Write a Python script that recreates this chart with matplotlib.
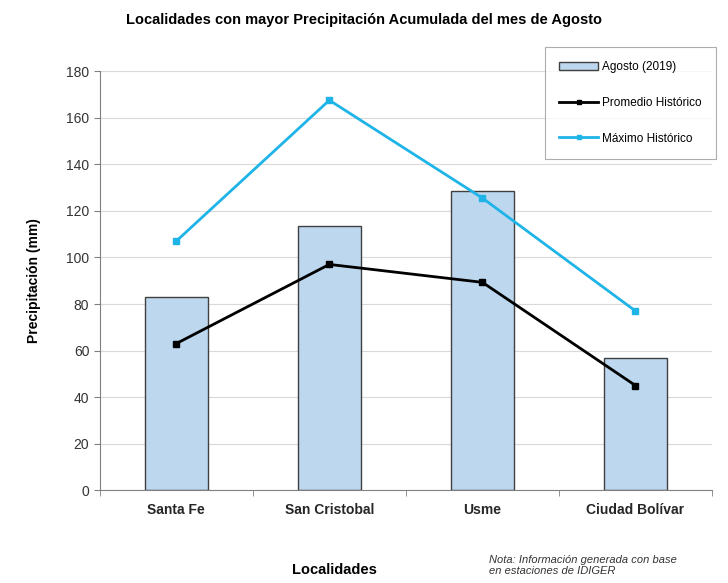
import numpy as np
import matplotlib
matplotlib.use('Agg')
import matplotlib.pyplot as plt

plt.rcParams['font.family'] = ['Liberation Sans', 'DejaVu Sans']

localidades = ['Santa Fe', 'San Cristobal', 'Usme', 'Ciudad Bolívar']
agosto_2019 = [83, 113.5, 128.5, 57]
promedio_hist = [63, 97, 89.3, 45]
maximo_hist = [107, 167.5, 125.5, 77]

fig = plt.figure(figsize=(7.28, 5.83), dpi=100)
ax = fig.add_axes([0.137, 0.159, 0.841, 0.719])

x = np.arange(len(localidades))
b = ax.bar(x, agosto_2019, width=0.41, color='#bdd7ee', edgecolor='#404040',
           linewidth=1.0, label='Agosto (2019)', zorder=2)
l1, = ax.plot(x, promedio_hist, color='black', lw=2, marker='s', ms=5,
              label='Promedio Histórico', zorder=3)
l2, = ax.plot(x, maximo_hist, color='#1fb4e8', lw=2, marker='s', ms=5,
              label='Máximo Histórico', zorder=3)

ax.set_xlim(-0.5, 3.5)
ax.set_ylim(0, 180)
ax.set_yticks(range(0, 181, 20))
ax.yaxis.grid(True, color='#d9d9d9', lw=0.8, zorder=0)
ax.set_xticks(x)
ax.set_xticklabels(localidades, fontsize=10, fontweight='bold', color='#262626')
ax.set_xticks(np.arange(-0.5, 4, 1), minor=True)
ax.tick_params(axis='x', which='major', length=0, pad=9)
ax.tick_params(axis='x', which='minor', length=4, color='#808080')
ax.tick_params(axis='y', length=4, color='#808080', labelsize=10, labelcolor='#333333')
for side in ['top', 'right']:
    ax.spines[side].set_visible(False)
for side in ['left', 'bottom']:
    ax.spines[side].set_color('#808080')

ax.set_ylabel('Precipitación (mm)', fontsize=10, fontweight='bold', labelpad=18)
fig.text(0.5, 0.965, 'Localidades con mayor Precipitación Acumulada del mes de Agosto',
         ha='center', va='center', fontsize=10.5, fontweight='bold')
fig.text(0.46, 0.022, 'Localidades', ha='center', va='center',
         fontsize=10.5, fontweight='bold')
fig.text(0.672, 0.03, 'Nota: Información generada con base\nen estaciones de IDIGER',
         ha='left', va='center', fontsize=8, style='italic', color='#333333',
         linespacing=1.1)

leg = fig.legend([b, l1, l2], ['Agosto (2019)', 'Promedio Histórico', 'Máximo Histórico'],
                 loc='upper left', bbox_to_anchor=(0.749, 0.919),
                 frameon=True, fancybox=False, fontsize=8.5, markerscale=0.7,
                 labelspacing=2.0, handlelength=3.3, handletextpad=0.3,
                 borderpad=1.2, borderaxespad=0)
leg.get_frame().set_edgecolor('#999999')
leg.get_frame().set_linewidth(0.8)

fig.savefig('out.png', dpi=100)
